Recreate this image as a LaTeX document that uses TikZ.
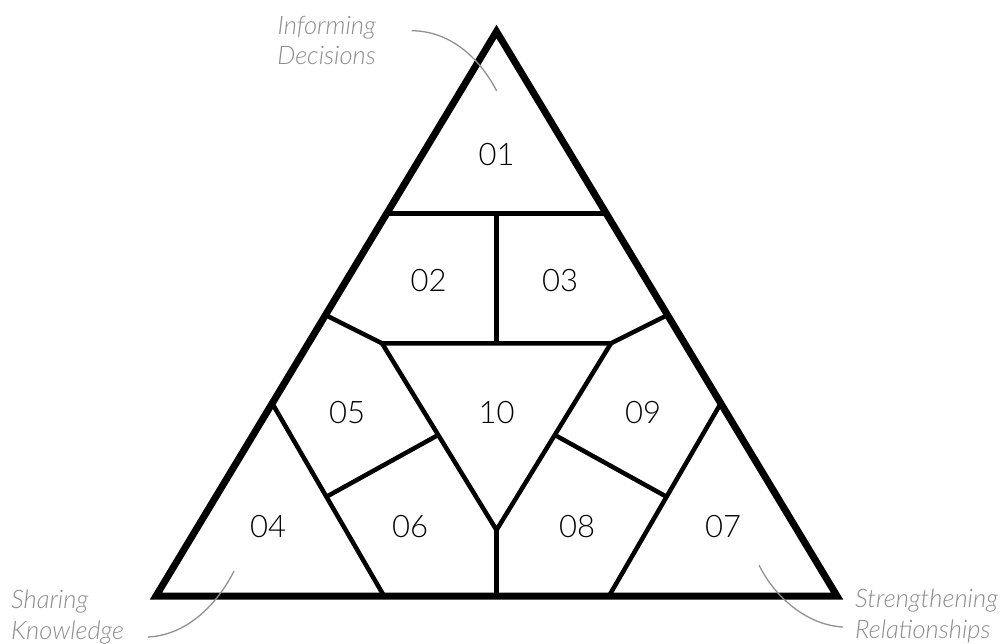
\documentclass[tikz,border=0pt]{standalone}
\usepackage{fontspec}
\usetikzlibrary{calc}
\newfontfamily\numfont{Lato Light}
\newfontfamily\capfont{Lato Light Italic}
\definecolor{capgray}{RGB}{140,140,140}
\definecolor{curvegray}{RGB}{145,145,145}
\tikzset{
  outerline/.style={line width=7pt, line join=miter},
  innerline/.style={line width=4.5pt, line join=miter},
  numlabel/.style={inner sep=0pt, font=\numfont\fontsize{31}{36}\selectfont},
  caption/.style={inner sep=0pt, text=capgray, font=\capfont\fontsize{25.5}{30.5}\selectfont},
  leader/.style={draw=curvegray, line width=1.3pt}
}
\begin{document}
\begin{tikzpicture}[x=1pt,y=-1pt]
\useasboundingbox (0,0) rectangle (1008,643);
% outer triangle vertices
\coordinate (A) at (496.5,31.5);
\coordinate (B) at (156,596);
\coordinate (C) at (837,596);
% points on edges
\coordinate (L1) at (386.8,213.3);
\coordinate (R1) at (606.2,213.3);
\coordinate (L2) at (325.5,315);
\coordinate (R2) at (667.5,315);
\coordinate (L3) at (272.2,403.3);
\coordinate (R3) at (720.8,403.3);
\coordinate (M1) at (496.5,213.3);
\coordinate (M2) at (496.5,343.3);
% inner triangle
\coordinate (T1) at (382,343.3);
\coordinate (T2) at (611,343.3);
\coordinate (T3) at (496.5,530);
\coordinate (Bm) at (496.5,596);
\coordinate (Q) at (384,596);
\coordinate (Qr) at (609,596);
\coordinate (D5) at ($(T1)!0.491!(T3)$);
\coordinate (D9) at ($(T2)!0.491!(T3)$);
\coordinate (P5) at ($(L3)!0.485!(Q)$);
\coordinate (P9) at ($(R3)!0.485!(Qr)$);
% inner lines
\draw[innerline] (L1) -- (R1);
\draw[innerline] (M1) -- (M2);
\draw[innerline] (L2) -- (T1) -- (T2) -- (R2);
\draw[innerline] (T1) -- (T3) -- (T2);
\draw[innerline] (T3) -- (Bm);
\draw[innerline] (L3) -- (Q);
\draw[innerline] (R3) -- (Qr);
\draw[innerline] (D5) -- (P5);
\draw[innerline] (D9) -- (P9);
% outer triangle
\draw[outerline] (A) -- (B) -- (C) -- cycle;
% numbers
\node[numlabel] (n01) at (496.5,155) {01};
\node[numlabel] (n02) at (428.5,281) {02};
\node[numlabel] (n03) at (560,281) {03};
\node[numlabel] (n05) at (347,413) {05};
\node[numlabel] (n10) at (496.5,413) {10};
\node[numlabel] (n09) at (643,413) {09};
\node[numlabel] (n04) at (268,527) {04};
\node[numlabel] (n06) at (410,527) {06};
\node[numlabel] (n08) at (577,527) {08};
\node[numlabel] (n07) at (723,527) {07};
% captions
\node[caption, align=right, anchor=north east] (cap1) at (376,16) {Informing\\Decisions};
\node[caption, align=left, anchor=north west] (cap2) at (11,590) {Sharing\\Knowledge};
\node[caption, align=left, anchor=north west] (cap3) at (855,589) {Strengthening\\Relationships};
% leader curves
\coordinate (c1s) at (411.7,30.7);
\coordinate (c1e) at (496.7,91);
\coordinate (c2s) at (148,637);
\coordinate (c2e) at (234,571);
\coordinate (c3s) at (759,565);
\coordinate (c3e) at (843,627);
\draw[leader] (c1s) .. controls (448,31) and (478,55) .. (c1e);
\draw[leader] (c2s) .. controls (188,635) and (218,603) .. (c2e);
\draw[leader] (c3s) .. controls (774,596) and (806,625) .. (c3e);
\end{tikzpicture}
\end{document}
